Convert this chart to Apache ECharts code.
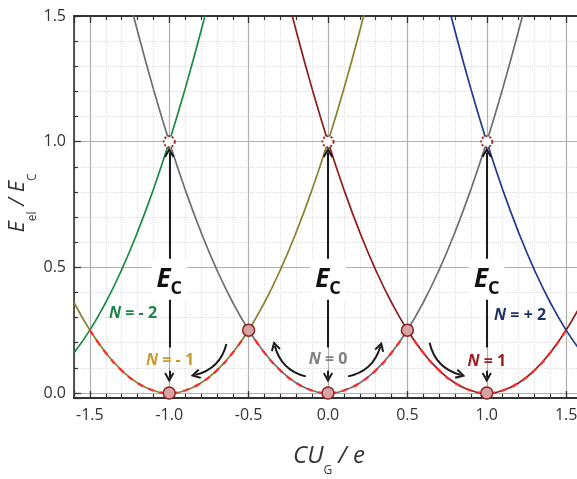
<!DOCTYPE html>
<html>
<head>
<meta charset="utf-8">
<script src="https://cdn.jsdelivr.net/npm/echarts@6/dist/echarts.min.js"></script>
<style>
  html, body { margin: 0; padding: 0; background: #fff; }
  #main { width: 577px; height: 479px; }
</style>
</head>
<body>
<div id="main"></div>
<script>
// gate charge CU_G/e
const xs = [-1.6, -1.5, -1.4, -1.3, -1.2, -1.1, -1.0, -0.9, -0.8, -0.7, -0.6, -0.5, -0.4, -0.3, -0.2, -0.1, 0,
  0.1, 0.2, 0.3, 0.4, 0.5, 0.6, 0.7, 0.8, 0.9, 1.0, 1.1, 1.2, 1.3, 1.4, 1.5, 1.6]

// E_el / E_C for each charge state N
const nMinus2 = [0.16, 0.25, 0.36, 0.49, 0.64, 0.81, 1.00, 1.21, 1.44, 1.69,
  null, null, null, null, null, null, null, null, null, null, null, null, null, null, null, null, null, null, null, null, null, null, null]
const nMinus1 = [0.36, 0.25, 0.16, 0.09, 0.04, 0.01, 0, 0.01, 0.04, 0.09, 0.16, 0.25, 0.36, 0.49, 0.64, 0.81, 1.00, 1.21, 1.44, 1.69,
  null, null, null, null, null, null, null, null, null, null, null, null, null]
const nZero = [null, null, null, 1.69, 1.44, 1.21, 1.00, 0.81, 0.64, 0.49, 0.36, 0.25, 0.16, 0.09, 0.04, 0.01, 0,
  0.01, 0.04, 0.09, 0.16, 0.25, 0.36, 0.49, 0.64, 0.81, 1.00, 1.21, 1.44, 1.69, null, null, null]
const nPlus1 = [null, null, null, null, null, null, null, null, null, null, null, null, null,
  1.69, 1.44, 1.21, 1.00, 0.81, 0.64, 0.49, 0.36, 0.25, 0.16, 0.09, 0.04, 0.01, 0, 0.01, 0.04, 0.09, 0.16, 0.25, 0.36]
const nPlus2 = [null, null, null, null, null, null, null, null, null, null, null, null, null, null, null, null, null, null, null, null, null, null, null,
  1.69, 1.44, 1.21, 1.00, 0.81, 0.64, 0.49, 0.36, 0.25, 0.16]

// ground state (dashed), three arcs
const groundX1 = [-1.5, -1.4, -1.3, -1.2, -1.1, -1.0, -0.9, -0.8, -0.7, -0.6, -0.5]
const groundY1 = [0.25, 0.16, 0.09, 0.04, 0.01, 0, 0.01, 0.04, 0.09, 0.16, 0.25]
const groundX2 = [-0.5, -0.4, -0.3, -0.2, -0.1, 0, 0.1, 0.2, 0.3, 0.4, 0.5]
const groundY2 = [0.25, 0.16, 0.09, 0.04, 0.01, 0, 0.01, 0.04, 0.09, 0.16, 0.25]
const groundX3 = [0.5, 0.6, 0.7, 0.8, 0.9, 1.0, 1.1, 1.2, 1.3, 1.4, 1.5]
const groundY3 = [0.25, 0.16, 0.09, 0.04, 0.01, 0, 0.01, 0.04, 0.09, 0.16, 0.25]

// points
const minimaPts = [[-1, 0], [0, 0], [1, 0], [-0.5, 0.25], [0.5, 0.25]]
const excitedPts = [[-1, 1], [0, 1], [1, 1]]

// arrows: [from, to, curveness]
const longArrows = [[[-1, 0.181], [-1, 0.957]], [[0, 0.181], [0, 0.957]], [[1, 0.181], [1, 0.957]]]
const shortArrows = [[[-1, 0.088], [-1, 0.062]], [[0, 0.088], [0, 0.062]], [[1, 0.088], [1, 0.062]]]
const curvedArrows = [
  [[-0.64, 0.195], [-0.835, 0.072], 0.3],
  [[-0.14, 0.066], [-0.335, 0.188], 0.3],
  [[0.126, 0.066], [0.33, 0.185], -0.3],
  [[0.64, 0.2], [0.835, 0.072], -0.3]
]

// labels
const nLabelText = ['- 2', '- 1', '0', '1', '+ 2']
const nLabelPos = [[-1.228, 0.316], [-0.995, 0.13], [0, 0.135], [1.0, 0.125], [1.21, 0.31]]
const ecLabelPos = [[-1, 0.453], [0, 0.453], [1, 0.453]]

const curveColors = ['#1b8a45', '#858230', '#6e6e6e', '#8c1c1c', '#22388a']
const labelColors = ['#1e8448', '#c8992e', '#808080', '#9a1e24', '#1f3163']
const FONT = 'Open Sans'

function zip(xv, yv) {
  return xv.map((x, i) => [x, yv[i]])
}

const curveSets = [nMinus2, nMinus1, nZero, nPlus1, nPlus2]
const series = []

curveSets.forEach((ys, i) => {
  series.push({
    type: 'line',
    data: zip(xs, ys),
    smooth: true,
    showSymbol: false,
    lineStyle: { color: curveColors[i], width: 1.7 },
    z: 2
  })
})

;[[groundX1, groundY1], [groundX2, groundY2], [groundX3, groundY3]].forEach(g => {
  series.push({
    type: 'line',
    data: zip(g[0], g[1]),
    smooth: true,
    showSymbol: false,
    lineStyle: { color: '#ff2b2b', width: 2.2, type: [6, 6] },
    z: 3
  })
})

const head = 'path://M5,0 L10,9 L8.4,10.2 L5,4.2 L1.6,10.2 L0,9 Z'
const arrowData = []
longArrows.concat(shortArrows).forEach(a => arrowData.push({ coords: a }))
curvedArrows.forEach(a => arrowData.push({ coords: [a[0], a[1]], lineStyle: { curveness: a[2] } }))

series.push({
  type: 'lines',
  coordinateSystem: 'cartesian2d',
  data: arrowData,
  symbol: ['none', head],
  symbolSize: 10,
  lineStyle: { color: '#1a1a1a', width: 2, opacity: 1 },
  z: 4
})

series.push({
  type: 'scatter',
  data: minimaPts,
  symbolSize: 12,
  itemStyle: { color: '#d9a3a3', borderColor: '#8b2525', borderWidth: 1.5, opacity: 1 },
  z: 6
})
series.push({
  type: 'scatter',
  data: excitedPts,
  symbolSize: 11,
  itemStyle: { color: '#ffffff', borderColor: '#9b2a2a', borderWidth: 2, borderType: 'dotted', opacity: 1 },
  z: 6
})

const noBorder = { textBorderWidth: 0, textBorderColor: 'transparent', textShadowBlur: 0 }

series.push({
  type: 'scatter',
  symbolSize: 0,
  itemStyle: { color: 'transparent', opacity: 1 },
  data: nLabelPos.map((p, i) => ({
    value: p,
    label: { color: labelColors[i], formatter: '{n|N}{t| = ' + nLabelText[i] + '}' }
  })),
  label: Object.assign({
    show: true,
    position: 'inside',
    fontFamily: FONT,
    fontSize: 16,
    fontWeight: 'bold',
    rich: {
      n: Object.assign({ fontFamily: FONT, fontSize: 16, fontWeight: 'bold', fontStyle: 'italic' }, noBorder),
      t: Object.assign({ fontFamily: FONT, fontSize: 16, fontWeight: 'bold' }, noBorder)
    }
  }, noBorder),
  z: 7
})

series.push({
  type: 'scatter',
  symbolSize: 0,
  itemStyle: { color: 'transparent', opacity: 1 },
  data: ecLabelPos,
  label: Object.assign({
    show: true,
    position: 'inside',
    formatter: '{e|E}{c|C}',
    backgroundColor: '#ffffff',
    padding: [3, 5, 2, 5],
    color: '#111',
    rich: {
      e: Object.assign({ fontFamily: FONT, fontSize: 26, fontWeight: 'bold', fontStyle: 'italic', lineHeight: 36, verticalAlign: 'middle', color: '#111' }, noBorder),
      c: Object.assign({ fontFamily: FONT, fontSize: 18, fontWeight: 'bold', lineHeight: 18, verticalAlign: 'bottom', color: '#111' }, noBorder)
    }
  }, noBorder),
  z: 8
})

const tickLabel = { fontFamily: FONT, fontSize: 16, color: '#333' }

var myChart = echarts.init(document.getElementById('main'))
myChart.setOption({
  animation: false,
  grid: { left: 74, right: -5, top: 16, bottom: 81, outerBoundsMode: 'none' },
  xAxis: [
    {
      type: 'value', min: -1.6, max: 1.6, splitNumber: 6,
      axisLine: { show: true, onZero: false, lineStyle: { color: '#333', width: 2 } },
      axisTick: { show: true, inside: true, length: 7, lineStyle: { color: '#333', width: 1.3 } },
      minorTick: { show: true, splitNumber: 5, length: 4, lineStyle: { color: '#333', width: 1.2 } },
      axisLabel: Object.assign({ margin: 9, formatter: v => Math.abs(v) > 1.55 ? '' : v.toFixed(1) }, tickLabel),
      splitLine: { show: true, lineStyle: { color: '#b0b0b0', width: 1.2 } },
      minorSplitLine: { show: true, lineStyle: { color: '#dedede', width: 1, type: 'dotted' } }
    },
    {
      type: 'value', min: -1.6, max: 1.6, splitNumber: 6, position: 'top',
      axisLine: { show: true, onZero: false, lineStyle: { color: '#333', width: 2 } },
      axisTick: { show: true, inside: true, length: 7, lineStyle: { color: '#333', width: 1.3 } },
      minorTick: { show: true, splitNumber: 5, length: 4, lineStyle: { color: '#333', width: 1.2 } },
      axisLabel: { show: false },
      splitLine: { show: false }
    }
  ],
  yAxis: {
    type: 'value', min: -0.02, max: 1.5, splitNumber: 3,
    axisLine: { show: true, onZero: false, lineStyle: { color: '#333', width: 1.6 } },
    axisTick: { show: true, inside: true, length: 7, lineStyle: { color: '#333', width: 1.3 } },
    minorTick: { show: true, splitNumber: 5, length: 4, lineStyle: { color: '#333', width: 1.2 } },
    axisLabel: Object.assign({ margin: 8, formatter: v => v < 0 ? '' : v.toFixed(1) }, tickLabel),
    splitLine: { show: true, lineStyle: { color: '#b0b0b0', width: 1.2 } },
    minorSplitLine: { show: true, lineStyle: { color: '#dedede', width: 1, type: 'dotted' } }
  },
  graphic: [
    {
      type: 'text', x: 329, y: 456, z: 10,
      style: {
        text: '{i|CU}{s|G}{i| / e}',
        align: 'center', verticalAlign: 'middle',
        rich: {
          i: { fontFamily: FONT, fontSize: 24, fontStyle: 'italic', fill: '#333', lineHeight: 41, verticalAlign: 'middle' },
          s: { fontFamily: FONT, fontSize: 12, fill: '#333', lineHeight: 12, verticalAlign: 'bottom' }
        }
      }
    },
    {
      type: 'text', x: 18, y: 203, rotation: Math.PI / 2, z: 10,
      style: {
        text: '{i|E}{s|el}{i| / E}{s|C}',
        align: 'center', verticalAlign: 'middle',
        rich: {
          i: { fontFamily: FONT, fontSize: 22, fontStyle: 'italic', fill: '#333', lineHeight: 42, verticalAlign: 'middle' },
          s: { fontFamily: FONT, fontSize: 12, fill: '#333', lineHeight: 12, verticalAlign: 'bottom' }
        }
      }
    }
  ],
  series: series
})
</script>
</body>
</html>
